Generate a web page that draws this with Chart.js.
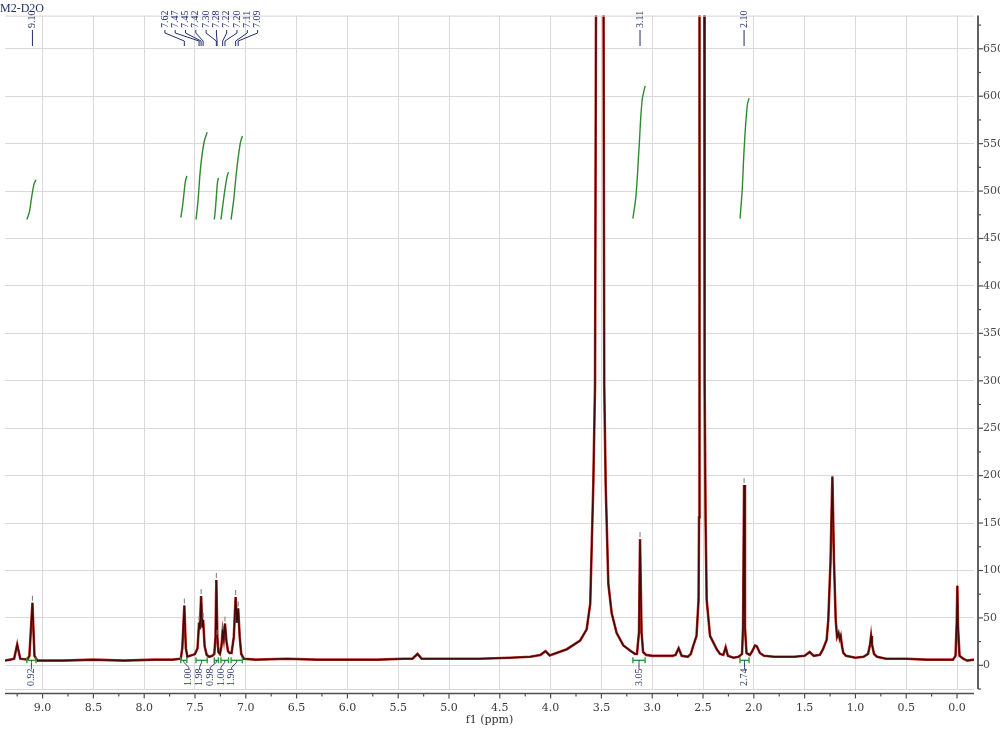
<!DOCTYPE html>
<html>
<head>
<meta charset="utf-8">
<script src="https://cdn.jsdelivr.net/npm/chart.js@4.4.1/dist/chart.umd.min.js"></script>
<style>
  html, body { margin: 0; padding: 0; background: #fff; }
  #wrap { width: 1000px; height: 732px; position: relative; }
</style>
</head>
<body>
<div id="wrap"><canvas id="nmr"></canvas></div>
<script>
// spectrum: chemical shift (ppm) and intensity
const specPpm = [9.37, 9.32, 9.28, 9.25, 9.22, 9.15, 9.13, 9.10, 9.08, 9.05, 8.8, 8.5, 8.2, 7.9, 7.72,
  7.64, 7.625, 7.605, 7.59, 7.575, 7.55, 7.52, 7.50, 7.475, 7.46, 7.452, 7.44, 7.428, 7.42, 7.405, 7.385, 7.36, 7.33,
  7.31, 7.298, 7.29, 7.28, 7.27, 7.255, 7.24, 7.228, 7.217, 7.205, 7.19, 7.175, 7.16, 7.14, 7.118, 7.10, 7.087, 7.075,
  7.06, 7.045, 7.02, 6.9, 6.6, 6.3, 6.0, 5.7, 5.45, 5.36, 5.31, 5.27, 5.0, 4.7, 4.4, 4.2, 4.10, 4.05, 4.01,
  3.84, 3.71, 3.645, 3.61, 3.58, 3.563, 3.553, 3.514, 3.479, 3.472, 3.458, 3.432, 3.399, 3.35, 3.284, 3.218, 3.169,
  3.15, 3.13, 3.12, 3.105, 3.09, 3.06, 3.0, 2.9, 2.8, 2.77, 2.74, 2.71, 2.65, 2.62, 2.598, 2.564, 2.544, 2.539,
  2.536, 2.533, 2.510, 2.487, 2.484, 2.475, 2.464, 2.431, 2.365, 2.333, 2.30, 2.277, 2.255, 2.2, 2.15, 2.116,
  2.106, 2.096, 2.087, 2.072, 2.04, 2.02, 1.988, 1.97, 1.94, 1.9, 1.8, 1.7, 1.6, 1.5, 1.45, 1.41, 1.35, 1.319,
  1.283, 1.267, 1.245, 1.227, 1.211, 1.194, 1.181, 1.166, 1.155, 1.145, 1.132, 1.119, 1.093, 1.0, 0.92, 0.876,
  0.856, 0.846, 0.837, 0.817, 0.787, 0.7, 0.5, 0.3, 0.1, 0.04, 0.015, 0.003, -0.003, -0.01, -0.025, -0.06, -0.1, -0.167];
const specInt = [5, 6, 7, 22, 7, 6, 10, 66, 10, 5, 5, 6, 5, 6, 6,
  7, 18, 63, 18, 9, 10, 11, 12, 18, 45, 38, 73, 40, 48, 20, 11, 9, 10,
  12, 30, 90, 30, 14, 12, 20, 36, 28, 44, 25, 15, 13, 13, 30, 72, 45, 60,
  30, 12, 7, 6, 7, 6, 6, 6, 7, 7, 12, 7, 7, 7, 8, 9, 11, 15, 10.5,
  17, 26, 38, 65, 190, 294, 700, 3000, 700, 294, 190, 86, 55, 34, 21, 15.6, 12,
  12, 35, 133, 35, 14, 11, 10, 10, 10, 11, 18, 10, 9, 12, 20, 31, 69, 156,
  294, 700, 3000, 700, 294, 156, 69, 31, 17, 12, 11, 19, 10, 8, 9, 12,
  40, 190, 40, 13, 11, 14, 21, 20, 13, 10, 9, 9, 9, 10, 14, 10, 11, 17,
  27, 48, 110, 199, 110, 48, 30, 34, 28, 31, 20, 13, 10, 8, 9, 12,
  22, 31, 22, 12, 9, 7, 7, 6, 6, 6, 10, 45, 84, 40, 10, 7, 5, 6];

// integral curves, [ppm, value]
const integralCurves = [
  [[9.155, 470], [9.13, 478], [9.11, 492], [9.085, 507], [9.065, 512]],
  [[7.64, 472], [7.625, 482], [7.61, 496], [7.595, 510], [7.58, 516]],
  [[7.49, 470], [7.47, 490], [7.445, 525], [7.41, 552], [7.38, 562]],
  [[7.31, 470], [7.30, 480], [7.29, 494], [7.28, 508], [7.27, 514]],
  [[7.245, 470], [7.225, 486], [7.205, 502], [7.185, 515], [7.17, 520]],
  [[7.145, 470], [7.12, 490], [7.09, 522], [7.055, 550], [7.034, 558]],
  [[3.19, 471], [3.16, 495], [3.13, 545], [3.10, 595], [3.07, 611]],
  [[2.136, 471], [2.115, 500], [2.095, 545], [2.065, 590], [2.047, 598]]
];
const integralLabels = ['0.92', '1.00', '1.98', '0.98', '1.00', '1.90', '3.05', '2.74'];

// peak picking labels and the shift each one points to
const peakLabels = ['9.10', '7.62', '7.47', '7.45', '7.42', '7.30', '7.28', '7.22', '7.20', '7.11', '7.09', '3.11', '2.10'];
const peakShifts = [9.10, 7.605, 7.46, 7.44, 7.42, 7.29, 7.283, 7.228, 7.205, 7.10, 7.075, 3.12, 2.096];

const xMajor = [0.0, 0.5, 1.0, 1.5, 2.0, 2.5, 3.0, 3.5, 4.0, 4.5, 5.0, 5.5, 6.0, 6.5, 7.0, 7.5, 8.0, 8.5, 9.0];
const yMajor = [0, 50, 100, 150, 200, 250, 300, 350, 400, 450, 500, 550, 600, 650];
const sampleName = 'M2-D2O';

const serif = '"DejaVu Serif", "Liberation Serif", serif';
const ink = '#1f2d6b';

const spectrum = specPpm.map((p, i) => ({ x: p, y: specInt[i] }));

function clusters(pxs, gap) {
  const out = [];
  pxs.forEach((p, i) => {
    const last = out[out.length - 1];
    if (last && Math.abs(p - pxs[last[last.length - 1]]) < gap) last.push(i);
    else out.push([i]);
  });
  return out;
}

function spread(pxs, groups, spacing) {
  const pos = [];
  groups.forEach(g => {
    const c = (pxs[g[0]] + pxs[g[g.length - 1]]) / 2;
    g.forEach((idx, k) => { pos[idx] = g.length === 1 ? pxs[idx] : c + (k - (g.length - 1) / 2) * spacing; });
  });
  return pos;
}

function vtext(ctx, str, px, py) {
  ctx.save();
  ctx.translate(px, py);
  ctx.rotate(-Math.PI / 2);
  ctx.fillText(str, 0, 0);
  ctx.restore();
}

const nmrDecor = {
  id: 'nmrDecor',
  afterDatasetsDraw(chart) {
    const { ctx, chartArea: a, scales: { x, y } } = chart;
    const seg = (x1, y1, x2, y2) => { ctx.beginPath(); ctx.moveTo(x1, y1); ctx.lineTo(x2, y2); ctx.stroke(); };
    ctx.save();

    // frame
    ctx.strokeStyle = '#d6d6d6'; ctx.lineWidth = 1;
    seg(a.left, a.top + 0.5, a.right, a.top + 0.5);
    seg(a.left, a.bottom - 0.5, a.right, a.bottom - 0.5);

    // x axis
    const xa = a.bottom + 3.5;
    ctx.strokeStyle = '#505050'; ctx.lineWidth = 1.6;
    seg(a.left, xa, a.right, xa);
    ctx.lineWidth = 1.2;
    xMajor.forEach(v => { const px = x.getPixelForValue(v); seg(px, xa, px, xa + 5); });
    const xs = xMajor[1] - xMajor[0];
    for (let v = xMajor[0] - xs / 2; v <= x.max; v += xs) {
      if (v >= x.min) { const px = x.getPixelForValue(v); seg(px, xa, px, xa + 3); }
    }

    // y axis (right)
    const ya = a.right + 4;
    ctx.lineWidth = 1.8;
    seg(ya, a.top, ya, a.bottom - 1);
    ctx.lineWidth = 1.2;
    yMajor.forEach(v => { const py = y.getPixelForValue(v); seg(ya, py, ya + 5, py); });
    const ys = yMajor[1] - yMajor[0];
    for (let v = yMajor[0] - ys / 2; v <= y.max; v += ys) {
      if (v >= y.min) { const py = y.getPixelForValue(v); seg(ya, py, ya + 3, py); }
    }

    ctx.fillStyle = '#333';
    ctx.font = '11px ' + serif;
    ctx.textAlign = 'center';
    ctx.textBaseline = 'middle';
    ctx.fillText('f1 (ppm)', (a.left + a.right) / 2, 720);

    // sample name
    ctx.fillStyle = ink;
    ctx.font = '12px "Liberation Serif", serif';
    ctx.textAlign = 'left';
    ctx.textBaseline = 'top';
    ctx.fillText(sampleName, 0, 3);

    // peak labels with fan lines
    const pPx = peakShifts.map(v => x.getPixelForValue(v));
    const pPos = spread(pPx, clusters(pPx, 20), 10.3);
    ctx.font = '10px "Liberation Serif", serif';
    ctx.textBaseline = 'middle';
    ctx.textAlign = 'left';
    ctx.strokeStyle = ink; ctx.lineWidth = 1;
    peakLabels.forEach((t, i) => {
      const lx = pPos[i], px = pPx[i];
      vtext(ctx, t, lx, 28);
      ctx.beginPath();
      ctx.moveTo(lx, 30); ctx.lineTo(lx, 33); ctx.lineTo(px, 41); ctx.lineTo(px, 46);
      ctx.stroke();
    });

    // tiny marks over picked peaks
    ctx.strokeStyle = '#777'; ctx.lineWidth = 1;
    peakShifts.forEach((v, i) => {
      let best = 0;
      specPpm.forEach((p, k) => { if (Math.abs(p - v) < Math.abs(specPpm[best] - v)) best = k; });
      const top = Math.max(y.getPixelForValue(specInt[best]), a.top);
      if (specInt[best] < 500) seg(pPx[i], top - 7, pPx[i], top - 2);
    });

    // integration brackets and values
    const by = y.getPixelForValue(0) - 5;
    const cPx = integralCurves.map(c => (x.getPixelForValue(c[0][0]) + x.getPixelForValue(c[c.length - 1][0])) / 2);
    const lPos = spread(cPx, clusters(cPx, 20), 10.7);
    integralCurves.forEach((c, i) => {
      const x1 = x.getPixelForValue(c[0][0]), x2 = x.getPixelForValue(c[c.length - 1][0]);
      ctx.strokeStyle = '#2f9a3a'; ctx.lineWidth = 1.4;
      seg(x1, by, x2, by);
      seg(x1, by - 3, x1, by + 3);
      seg(x2, by - 3, x2, by + 3);
      ctx.strokeStyle = ink; ctx.lineWidth = 0.9;
      ctx.beginPath();
      ctx.moveTo(cPx[i], by); ctx.lineTo(cPx[i], by + 2); ctx.lineTo(lPos[i], by + 7); ctx.lineTo(lPos[i], by + 9);
      ctx.stroke();
      ctx.fillStyle = '#2b3766';
      vtext(ctx, integralLabels[i], lPos[i], 686);
    });

    ctx.restore();
  }
};

new Chart(document.getElementById('nmr'), {
  type: 'line',
  data: {
    datasets: [
      // dataset 0 is painted last, so the dark trace sits over the red one
      { data: spectrum, borderColor: '#3e0c0a', borderWidth: 1.5, pointRadius: 0, tension: 0 },
      { data: spectrum, borderColor: '#c0302a', borderWidth: 2.6, pointRadius: 0, tension: 0 },
      ...integralCurves.map(c => ({
        data: c.map(p => ({ x: p[0], y: p[1] })),
        borderColor: '#2f8a2f', borderWidth: 1.4, pointRadius: 0, tension: 0.4
      }))
    ]
  },
  options: {
    responsive: true,
    maintainAspectRatio: false,
    animation: false,
    layout: { padding: { left: 5, top: 5, right: 0, bottom: 0 } },
    plugins: { legend: { display: false }, tooltip: { enabled: false } },
    scales: {
      x: {
        type: 'linear', reverse: true, min: -0.167, max: 9.37,
        afterBuildTicks: s => { s.ticks = xMajor.map(v => ({ value: v })); },
        afterFit: s => { s.height = 42; },
        grid: { color: '#d9d9d9', lineWidth: 1, drawTicks: false },
        border: { display: false },
        ticks: {
          autoSkip: false, maxRotation: 0, padding: 12, color: '#3a3a3a',
          font: { family: serif, size: 11 },
          callback: v => v.toFixed(1)
        }
      },
      y: {
        type: 'linear', position: 'right', min: -26, max: 685,
        afterBuildTicks: s => { s.ticks = yMajor.map(v => ({ value: v })); },
        afterFit: s => { s.width = 26; },
        grid: { color: '#d9d9d9', lineWidth: 1, drawTicks: false },
        border: { display: false },
        ticks: { padding: 9, color: '#4a4a4a', font: { family: serif, size: 11 } }
      }
    }
  },
  plugins: [nmrDecor]
});
</script>
</body>
</html>
